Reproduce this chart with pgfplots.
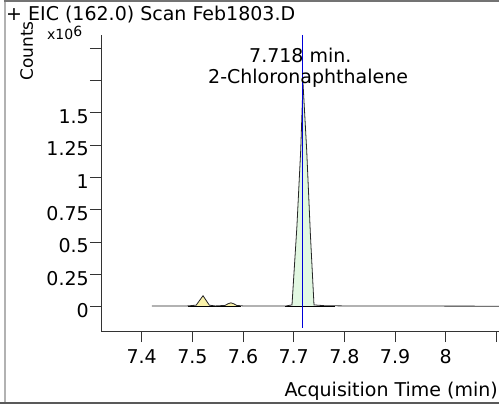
\documentclass[border=0pt]{standalone}
\usepackage{fontspec}
\setmainfont{DejaVu Sans}
\usepackage{pgfplots}
\pgfplotsset{compat=1.18}
\definecolor{peakgreen}{RGB}{226,248,226}
\definecolor{peakyellow}{RGB}{250,242,170}
\begin{document}
\begin{tikzpicture}[font=\fontsize{19bp}{22bp}\selectfont]
\useasboundingbox (-101bp,-73bp) rectangle (398bp,331bp);
% frame
\draw[black!30, line width=2bp] (-96bp,-73bp) -- (-96bp,330bp);
\draw[black!55, line width=2bp] (-97bp,329.5bp) -- (420bp,329.5bp);
\draw[black!65, line width=2bp] (-101bp,-72bp) -- (420bp,-72bp);
\begin{axis}[
  at={(0,0)}, anchor=south west,
  scale only axis, width=398bp, height=296bp,
  xmin=7.3197, xmax=8.1051, ymin=-0.19, ymax=2.101,
  axis x line=bottom, axis y line=left,
  axis line style={-, black!80, line width=0.8bp},
  tick align=outside,
  major tick length=11bp,
  tick style={black!80, line width=0.6bp},
  xtick={7.4,7.5,7.6,7.7,7.8,7.9,8.0,8.1},
  xticklabels={7.4,7.5,7.6,7.7,7.8,7.9,8,},
  xticklabel style={yshift=-4bp},
  ytick={0,0.25,0.5,0.75,1,1.25,1.5,1.75,2},
  yticklabels={0,0.25,0.5,0.75,1,1.25,1.5,,},
  yticklabel style={inner sep=1bp, yshift=-4bp},
  /pgf/number format/assume math mode=true,
]
% peak areas
\addplot[draw=none, fill=peakyellow] coordinates {(7.5075,0.004)(7.521,0.083)(7.5335,0.004)} \closedcycle;
\addplot[draw=none, fill=peakyellow] coordinates {(7.5645,0.004)(7.570,0.02)(7.576,0.028)(7.582,0.02)(7.5875,0.004)} \closedcycle;
\addplot[draw=none, fill=peakgreen] coordinates {(7.6966,0.004)(7.7063,0.62)(7.7138,1.21)(7.7183,1.73)(7.7256,1.21)(7.7330,0.55)(7.7400,0.004)} \closedcycle;
% integration baselines
\addplot[black, line width=1.6bp] coordinates {(7.4914,0.0)(7.5960,0.0)};
\addplot[black, line width=1.6bp] coordinates {(7.6834,0.0)(7.7815,0.0)};
% EIC trace
\addplot[black!85, line width=0.8bp] coordinates {
(7.42,0.004)(7.49,0.004)(7.5075,0.01)(7.521,0.083)(7.5335,0.01)(7.545,0.004)
(7.5645,0.008)(7.570,0.02)(7.576,0.028)(7.582,0.02)(7.5875,0.008)(7.60,0.004)
(7.685,0.004)(7.6966,0.012)(7.7063,0.62)(7.7138,1.21)(7.7183,1.73)(7.7256,1.21)
(7.7330,0.55)(7.7400,0.012)(7.76,0.006)(7.80,0.004)(8.11,0.002)};
% retention time marker
\addplot[blue!85!black, line width=0.8bp] coordinates {(7.718,2.101)(7.718,-0.166)};
\end{axis}
\node[anchor=base west, inner sep=0pt] at (-95bp,310bp) {+ EIC (162.0) Scan Feb1803.D};
\node[rotate=90, anchor=base, inner sep=0pt, font=\fontsize{17bp}{20bp}\selectfont] at (-68bp,280bp) {Counts};
\node[anchor=base west, inner sep=0pt, font=\fontsize{14bp}{16bp}\selectfont] at (-54bp,291bp) {x10\raisebox{3bp}{6}};
\node[anchor=base west, inner sep=0pt] at (148bp,268bp) {7.718 min.};
\node[anchor=base west, inner sep=0pt] at (107bp,247bp) {2-Chloronaphthalene};
\node[anchor=base east, inner sep=0pt] at (397bp,-65bp) {Acquisition Time (min)};
\end{tikzpicture}
\end{document}
